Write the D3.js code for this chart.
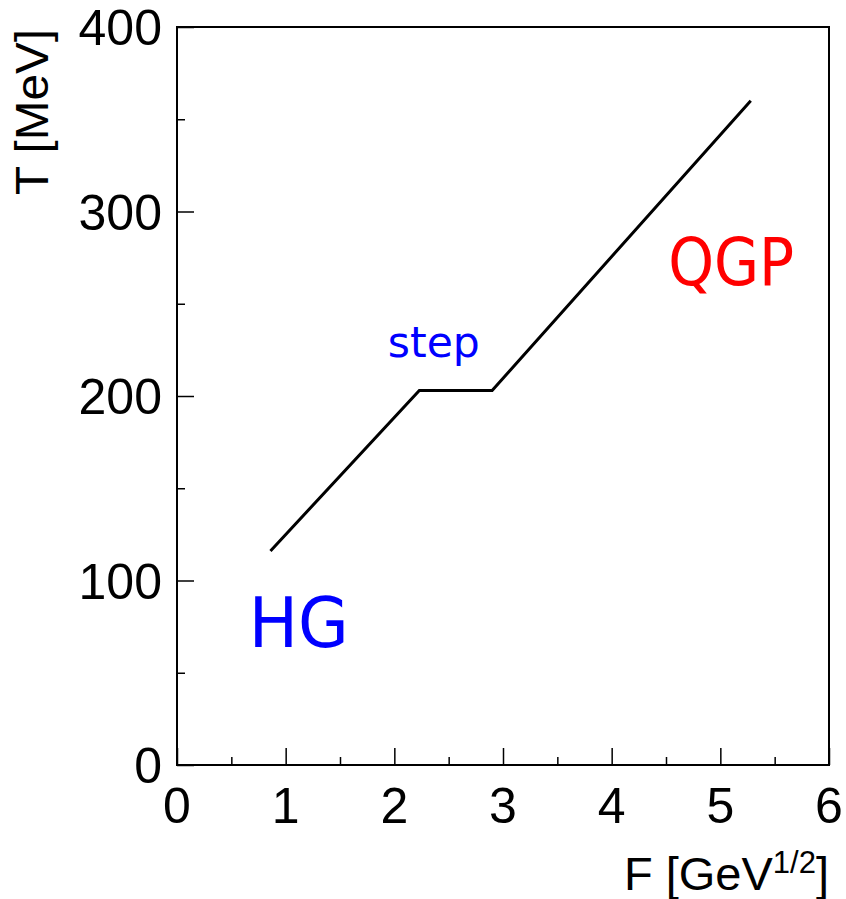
<!DOCTYPE html>
<html>
<head>
<meta charset="utf-8">
<script src="https://cdn.jsdelivr.net/npm/d3@7"></script>
<style>
  html, body { margin: 0; padding: 0; background: #fff; }
  svg { display: block; }
</style>
</head>
<body>
<svg id="chart" width="846" height="899"></svg>
<script>
"use strict";

// curve T(F)
var fVals = [0.86, 2.23, 2.90, 5.28];
var tVals = [116, 203, 203, 360];

var xTicks = [0, 1, 2, 3, 4, 5, 6];
var yTicks = [0, 100, 200, 300, 400];

var regionLabels = ["HG", "step", "QGP"];
var regionF = [0.66, 1.94, 4.52];
var regionT = [64, 221, 260];

var svg = d3.select("#chart"),
  margin = {top: 27, right: 17, bottom: 134, left: 177},
  width = 846 - margin.left - margin.right,
  height = 899 - margin.top - margin.bottom,
  g = svg.append("g").attr("transform", "translate(" + margin.left + "," + margin.top + ")"),
  x = d3.scaleLinear().domain([0, 6]).range([0, width]),
  y = d3.scaleLinear().domain([0, 400]).range([height, 0]);

var axisFont = "'Liberation Sans', Arial, sans-serif";

// minor ticks (inward)
g.append("g")
  .attr("transform", "translate(0," + height + ")")
  .call(d3.axisTop(x).tickValues(d3.range(0.5, 6, 1)).tickSize(8).tickFormat(""))
  .call(s => s.select(".domain").remove());
g.append("g")
  .call(d3.axisRight(y).tickValues(d3.range(50, 400, 100)).tickSize(8).tickFormat(""))
  .call(s => s.select(".domain").remove());

// major ticks
g.append("g")
  .attr("transform", "translate(0," + height + ")")
  .call(d3.axisTop(x).tickValues(xTicks).tickSize(17).tickFormat(""))
  .call(s => s.select(".domain").remove());
g.append("g")
  .call(d3.axisRight(y).tickValues(yTicks).tickSize(17).tickFormat(""))
  .call(s => s.select(".domain").remove());

g.selectAll(".tick line").attr("stroke", "#000").attr("stroke-width", 1.5);

// tick labels
g.append("g").selectAll("text")
  .data(xTicks)
  .join("text")
  .attr("x", d => x(d))
  .attr("y", height + 58)
  .attr("text-anchor", "middle")
  .attr("font-family", axisFont)
  .attr("font-size", 50)
  .text(d => d);

g.append("g").selectAll("text")
  .data(yTicks)
  .join("text")
  .attr("x", -15)
  .attr("y", d => y(d) + 18)
  .attr("text-anchor", "end")
  .attr("font-family", axisFont)
  .attr("font-size", 50)
  .text(d => d);

// frame
g.append("rect")
  .attr("width", width)
  .attr("height", height)
  .attr("fill", "none")
  .attr("stroke", "#000")
  .attr("stroke-width", 2);

// axis titles
var xt = svg.append("text")
  .attr("x", 829)
  .attr("y", 890)
  .attr("text-anchor", "end")
  .attr("font-family", axisFont)
  .attr("font-size", 47);
xt.append("tspan").text("F [GeV");
xt.append("tspan").attr("font-size", 31).attr("dy", -17).text("1/2");
xt.append("tspan").attr("dy", 17).text("]");

svg.append("text")
  .attr("transform", "translate(48,29) rotate(-90)")
  .attr("text-anchor", "end")
  .attr("font-family", axisFont)
  .attr("font-size", 47)
  .attr("textLength", 166)
  .attr("lengthAdjust", "spacingAndGlyphs")
  .text("T [MeV]");

// curve
var line = d3.line()
  .x((d, i) => x(d))
  .y((d, i) => y(tVals[i]));

g.append("path")
  .datum(fVals)
  .attr("fill", "none")
  .attr("stroke", "#000")
  .attr("stroke-width", 3)
  .attr("stroke-linejoin", "miter")
  .attr("d", line);

// region labels
var labelColor = ["#0000ff", "#0000ff", "#ff0000"];
var labelSize = [70, 42, 66];
var labelLen = [100, 92, 126];

g.append("g").selectAll("text")
  .data(regionLabels)
  .join("text")
  .attr("x", (d, i) => x(regionF[i]))
  .attr("y", (d, i) => y(regionT[i]))
  .attr("font-family", "'DejaVu Sans', Verdana, sans-serif")
  .attr("font-size", (d, i) => labelSize[i])
  .attr("fill", (d, i) => labelColor[i])
  .attr("textLength", (d, i) => labelLen[i])
  .attr("lengthAdjust", "spacingAndGlyphs")
  .text(d => d);
</script>
</body>
</html>
